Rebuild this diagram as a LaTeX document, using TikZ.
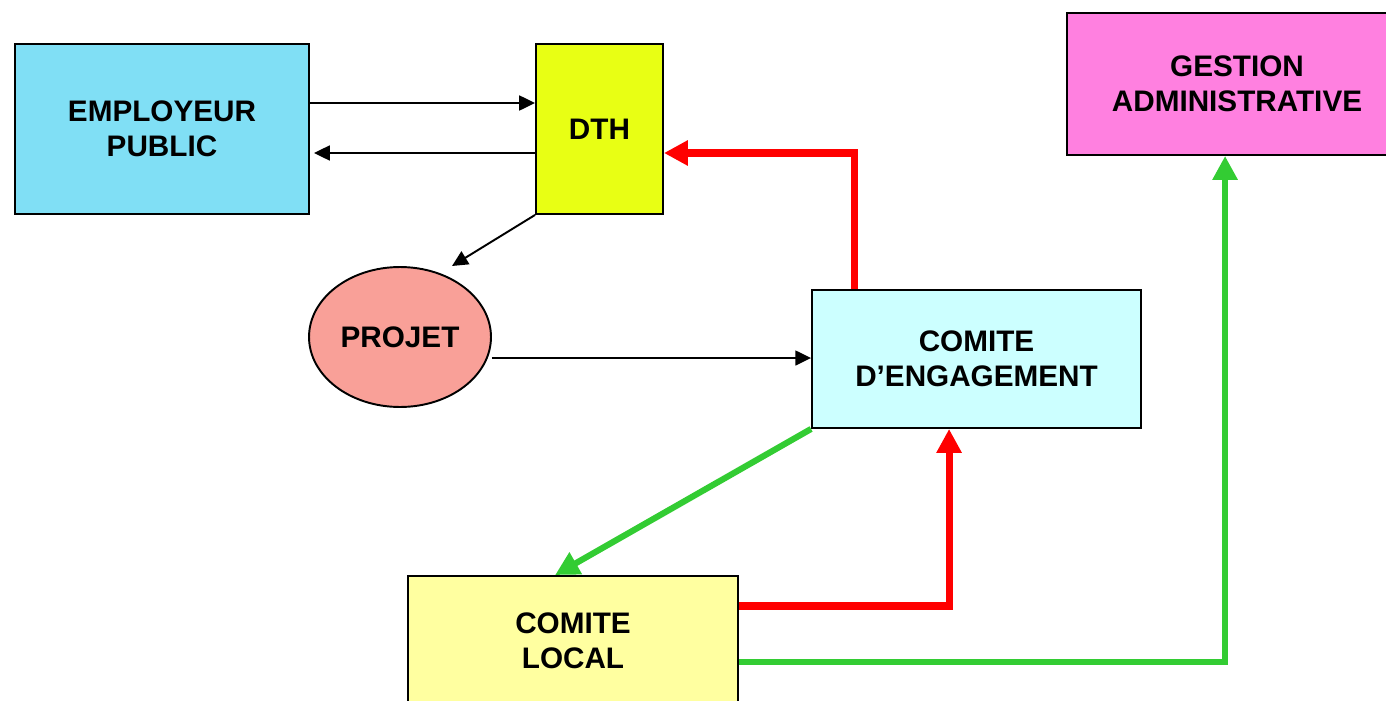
\documentclass[tikz,border=0pt]{standalone}
\usepackage{fontspec}
\setmainfont{Liberation Sans}
\usetikzlibrary{arrows.meta,calc,shapes.geometric}
\definecolor{cEmp}{HTML}{80DFF5}
\definecolor{cDth}{HTML}{E8FF14}
\definecolor{cGest}{HTML}{FF80E0}
\definecolor{cProj}{HTML}{F9A098}
\definecolor{cEng}{HTML}{CCFFFF}
\definecolor{cLoc}{HTML}{FFFFA0}
\definecolor{cRed}{HTML}{FF0000}
\definecolor{cGreen}{HTML}{33CC33}
\begin{document}
\begin{tikzpicture}[x=0.02cm,y=-0.02cm,
  box/.style={draw=black,line width=1.1pt,rectangle,inner sep=0pt,align=center,
    font=\fontsize{16.9}{20}\selectfont\bfseries},
  thin/.style={draw=black,line width=1.1pt,-{Triangle[length=9pt,width=8.5pt]}},
  redline/.style={draw=cRed,line width=4pt,-{Triangle[length=13.6pt,width=13.6pt]}},
  greenline/.style={draw=cGreen,line width=3.5pt,-{Triangle[length=13.6pt,width=13.6pt]}}]
\useasboundingbox (0,0) rectangle (1386,700);
\clip (0,0) rectangle (1386,700);

\node[box,fill=cEmp,minimum width=5.88cm,minimum height=3.40cm] (emp) at (162,129) {EMPLOYEUR\\PUBLIC};
\node[box,fill=cDth,minimum width=2.54cm,minimum height=3.40cm] (dth) at (599.5,129) {DTH};
\node[box,fill=cGest,minimum width=6.80cm,minimum height=2.84cm] (gest) at (1237,84) {GESTION\\ADMINISTRATIVE};
\node[box,ellipse,fill=cProj,minimum width=3.64cm,minimum height=2.80cm] (proj) at (400,337) {PROJET};
\node[box,fill=cEng,minimum width=6.58cm,minimum height=2.76cm] (ceng) at (976.5,359) {COMITE\\D’ENGAGEMENT};
\node[box,fill=cLoc,minimum width=6.60cm,minimum height=2.60cm] (cloc) at (573,641) {COMITE\\LOCAL};

\coordinate (projtip) at (452,266);

\draw[thin] ($(emp.east)+(0,-26)$) -- ($(dth.west)+(0,-26)$);
\draw[thin,shorten >=2.3pt] ($(dth.west)+(0,24)$) -- ($(emp.east)+(0,24)$);
\draw[thin] (dth.south west) -- (projtip);
\draw[thin] ($(proj.east)+(0,21)$) -- ($(ceng.west)+(0,-1)$);

\draw[redline] ($(ceng.north west)+(43,0)$) |- ($(dth.east)+(0,24)$);
\draw[greenline] (ceng.south west) -- ($(cloc.north west)+(148,0)$);
\draw[redline] ($(cloc.east)+(0,-35)$) -| ($(ceng.south west)+(138,0)$);
\draw[greenline] ($(cloc.east)+(0,21)$) -| ($(gest.south west)+(159,0)$);
\end{tikzpicture}
\end{document}
